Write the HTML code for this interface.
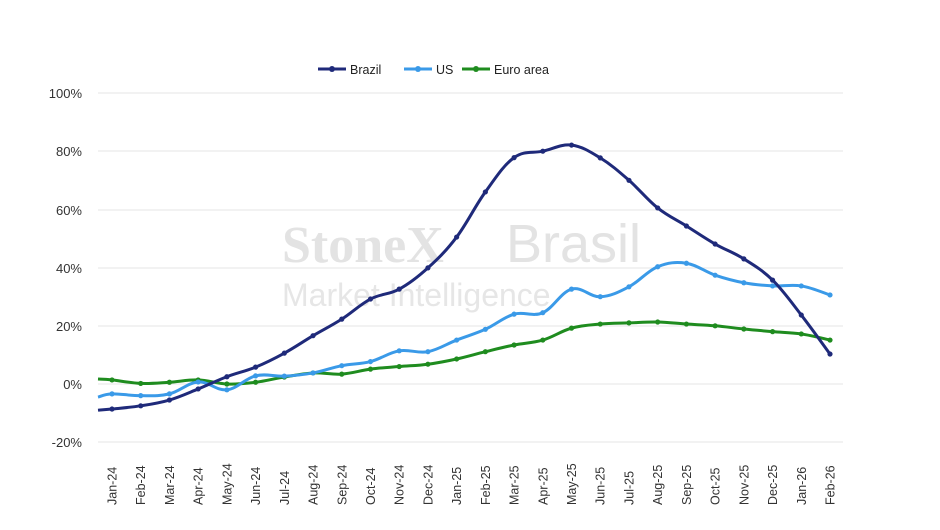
<!DOCTYPE html>
<html><head><meta charset="utf-8"><style>
html,body{margin:0;padding:0;background:#fff;}
svg{display:block;font-family:"Liberation Sans",Arial,sans-serif;}
</style></head><body>
<svg width="940" height="530" viewBox="0 0 940 530" xmlns="http://www.w3.org/2000/svg">
<g stroke="#e6e6e6" stroke-width="1">
<line x1="98" y1="93" x2="843" y2="93"/><line x1="98" y1="151" x2="843" y2="151"/>
<line x1="98" y1="210" x2="843" y2="210"/><line x1="98" y1="268" x2="843" y2="268"/>
<line x1="98" y1="326" x2="843" y2="326"/><line x1="98" y1="384" x2="843" y2="384"/>
<line x1="98" y1="442" x2="843" y2="442"/>
</g>
<g font-size="13" fill="#333" text-anchor="end">
<text x="82" y="98">100%</text><text x="82" y="156">80%</text><text x="82" y="215">60%</text>
<text x="82" y="273">40%</text><text x="82" y="331">20%</text><text x="82" y="389">0%</text>
<text x="82" y="447">-20%</text>
</g>
<text x="282" y="262" font-family="Liberation Serif,serif" font-size="52" font-weight="bold" fill="#e3e3e3">StoneX</text>
<text x="506" y="262" font-size="54" fill="#e3e3e3">Brasil</text>
<text x="282" y="306" font-size="32" fill="#e6e6e6">Market Intelligence</text>
<g id="lines" fill="none" stroke-width="3" stroke-linejoin="round"></g>
<g id="labels" font-size="12.5" fill="#333"></g>
<g font-size="12.5" fill="#222">
<line x1="318" y1="69" x2="346" y2="69" stroke="#1f2a7a" stroke-width="3"/><circle cx="332" cy="69" r="3" fill="#1f2a7a"/>
<text x="350" y="74">Brazil</text>
<line x1="404" y1="69" x2="432" y2="69" stroke="#3a9ae8" stroke-width="3"/><circle cx="418" cy="69" r="3" fill="#3a9ae8"/>
<text x="436" y="74">US</text>
<line x1="462" y1="69" x2="490" y2="69" stroke="#1f8c1f" stroke-width="3"/><circle cx="476" cy="69" r="3" fill="#1f8c1f"/>
<text x="494" y="74">Euro area</text>
</g>
</svg>
<script>
var months=["Jan-24","Feb-24","Mar-24","Apr-24","May-24","Jun-24","Jul-24","Aug-24","Sep-24","Oct-24","Nov-24","Dec-24","Jan-25","Feb-25","Mar-25","Apr-25","May-25","Jun-25","Jul-25","Aug-25","Sep-25","Oct-25","Nov-25","Dec-25","Jan-26","Feb-26"];
var br=[-8.6,-7.5,-5.5,-1.7,2.5,5.8,10.6,16.6,22.3,29.2,32.6,39.9,50.5,66,77.8,80,82.1,77.7,70,60.5,54.3,48.1,43,35.7,23.7,10.3];
var us=[-3.4,-4,-3.4,0.7,-2,2.8,2.7,3.8,6.3,7.7,11.4,11.1,15.1,18.8,24,24.5,32.6,30,33.4,40.3,41.5,37.4,34.8,33.7,33.7,30.6];
var eu=[1.4,0.2,0.6,1.4,0,0.6,2.4,3.8,3.4,5.1,6,6.8,8.6,11.1,13.4,15.1,19.2,20.6,21,21.3,20.6,20,18.9,18,17.2,15.1];
var start={br:-9,us:-4.5,eu:1.7};
function X(i){return 112+i*28.72;}function Y(v){return 384-v*2.91;}
var NS="http://www.w3.org/2000/svg",g=document.getElementById("lines");
function smooth(pts){var d="M"+pts[0][0]+","+pts[0][1];for(var i=0;i<pts.length-1;i++){var p0=pts[i-1]||pts[i],p1=pts[i],p2=pts[i+1],p3=pts[i+2]||p2;var t=0.18;d+=" C"+(p1[0]+(p2[0]-p0[0])*t)+","+(p1[1]+(p2[1]-p0[1])*t)+" "+(p2[0]-(p3[0]-p1[0])*t)+","+(p2[1]-(p3[1]-p1[1])*t)+" "+p2[0]+","+p2[1];}return d;}
[[br,"#1f2a7a",start.br],[us,"#3a9ae8",start.us],[eu,"#1f8c1f",start.eu]].reverse().forEach(function(s){
var pts=[[98,Y(s[2])]];s[0].forEach(function(v,i){pts.push([X(i),Y(v)]);});
var p=document.createElementNS(NS,"path");p.setAttribute("d",smooth(pts));p.setAttribute("stroke",s[1]);g.appendChild(p);
s[0].forEach(function(v,i){var c=document.createElementNS(NS,"circle");c.setAttribute("cx",X(i));c.setAttribute("cy",Y(v));c.setAttribute("r",2.6);c.setAttribute("fill",s[1]);g.appendChild(c);});
});
var lg=document.getElementById("labels");
months.forEach(function(m,i){var t=document.createElementNS(NS,"text");var x=X(i)+4.5;t.setAttribute("transform","translate("+x+",505) rotate(-90)");t.textContent=m;lg.appendChild(t);});
</script>
</body></html>
